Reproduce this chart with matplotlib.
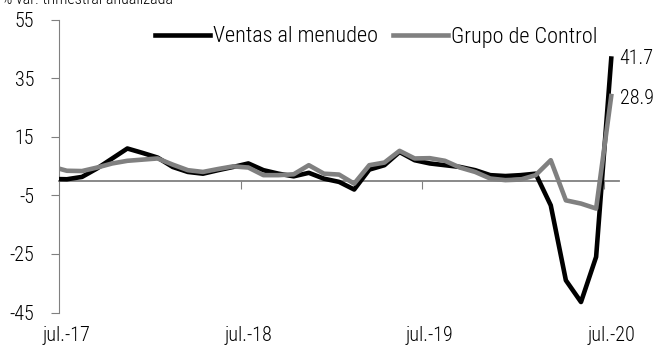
import numpy as np
import matplotlib
matplotlib.use("Agg")
import matplotlib.pyplot as plt

plt.rcParams['font.family'] = ['Roboto Condensed', 'Archivo Narrow', 'DejaVu Sans']
plt.rcParams['font.weight'] = 'light'

# jun-17 ... jul-20, % var. trimestral anualizada
ventas = [0.6, 0.5, 1.3, 4.2, 7.6, 11.0, 9.5, 7.9, 4.7, 3.0, 2.4, 3.6, 4.7,
          5.9, 3.6, 2.4, 1.5, 2.7, 0.7, -0.4, -3.0, 3.8, 5.3, 9.8, 7.0,
          5.9, 5.3, 4.7, 3.6, 1.9, 1.6, 1.9, 2.4, -8.4, -34.0, -41.4, -26.0, 41.7]
control = [4.8, 3.4, 3.3, 4.5, 5.9, 6.8, 7.2, 7.6, 5.5, 3.6, 3.0, 4.0, 4.9,
           4.5, 1.9, 1.9, 2.2, 5.3, 2.4, 2.1, -1.0, 5.3, 6.2, 10.2, 7.6,
           7.7, 6.8, 4.5, 3.0, 0.75, 0.2, 0.4, 1.9, 7.0, -6.7, -7.8, -9.5, 28.9]
etiquetas = ['jul.-17', 'jul.-18', 'jul.-19', 'jul.-20']
pos_etiquetas = [0, 12, 24, 36]
yticks = [55, 35, 15, -5, -25, -45]

gris = '#808080'
fs = 14.5
x = np.arange(len(ventas)) - 1

fig = plt.figure(figsize=(6.59, 3.5), dpi=100)
ax = fig.add_axes([0.090, 0.107, 0.849, 0.837])

ax.plot(x, ventas, color='black', lw=3.3, solid_joinstyle='round', label='Ventas al menudeo', zorder=3)
ax.plot(x, control, color=gris, lw=3.3, solid_joinstyle='round', label='Grupo de Control', zorder=4)

ax.set_xlim(-0.5, 36.5)
ax.set_ylim(-45, 55)
ax.set_yticks(yticks)
ax.set_yticklabels([str(v) for v in yticks], fontsize=fs)
ax.tick_params(axis='y', length=6, color=gris, pad=12)

ax.spines['top'].set_visible(False)
ax.spines['right'].set_visible(False)
ax.spines['left'].set_color(gris)
ax.spines['bottom'].set_position(('data', 0))
ax.spines['bottom'].set_color(gris)
ax.spines['bottom'].set_linewidth(1.3)
ax.set_xticks([11.5, 23.5, 35.5])
ax.set_xticklabels([])
ax.tick_params(axis='x', length=6, color=gris)

for p, t in zip(pos_etiquetas, etiquetas):
    ax.text(p, -49.5, t, fontsize=fs, ha='center', va='top', clip_on=False)

ax.annotate(f'{ventas[-1]:.1f}', (x[-1], ventas[-1]), xytext=(6, 0),
            textcoords='offset points', va='center', fontsize=fs)
ax.annotate(f'{control[-1]:.1f}', (x[-1], control[-1]), xytext=(6, -1.5),
            textcoords='offset points', va='center', fontsize=fs)

ax.legend(ncol=2, frameon=False, fontsize=16, loc='center left',
          bbox_to_anchor=(155 / 659, 1 - 37 / 350), bbox_transform=fig.transFigure,
          handlelength=2.48, handletextpad=0.12, columnspacing=0.68,
          borderpad=0, borderaxespad=0)

fig.text(0.003, 1.0, '% var. trimestral anualizada', fontsize=11.5, va='center', ha='left')

fig.savefig('out.png', dpi=100)
